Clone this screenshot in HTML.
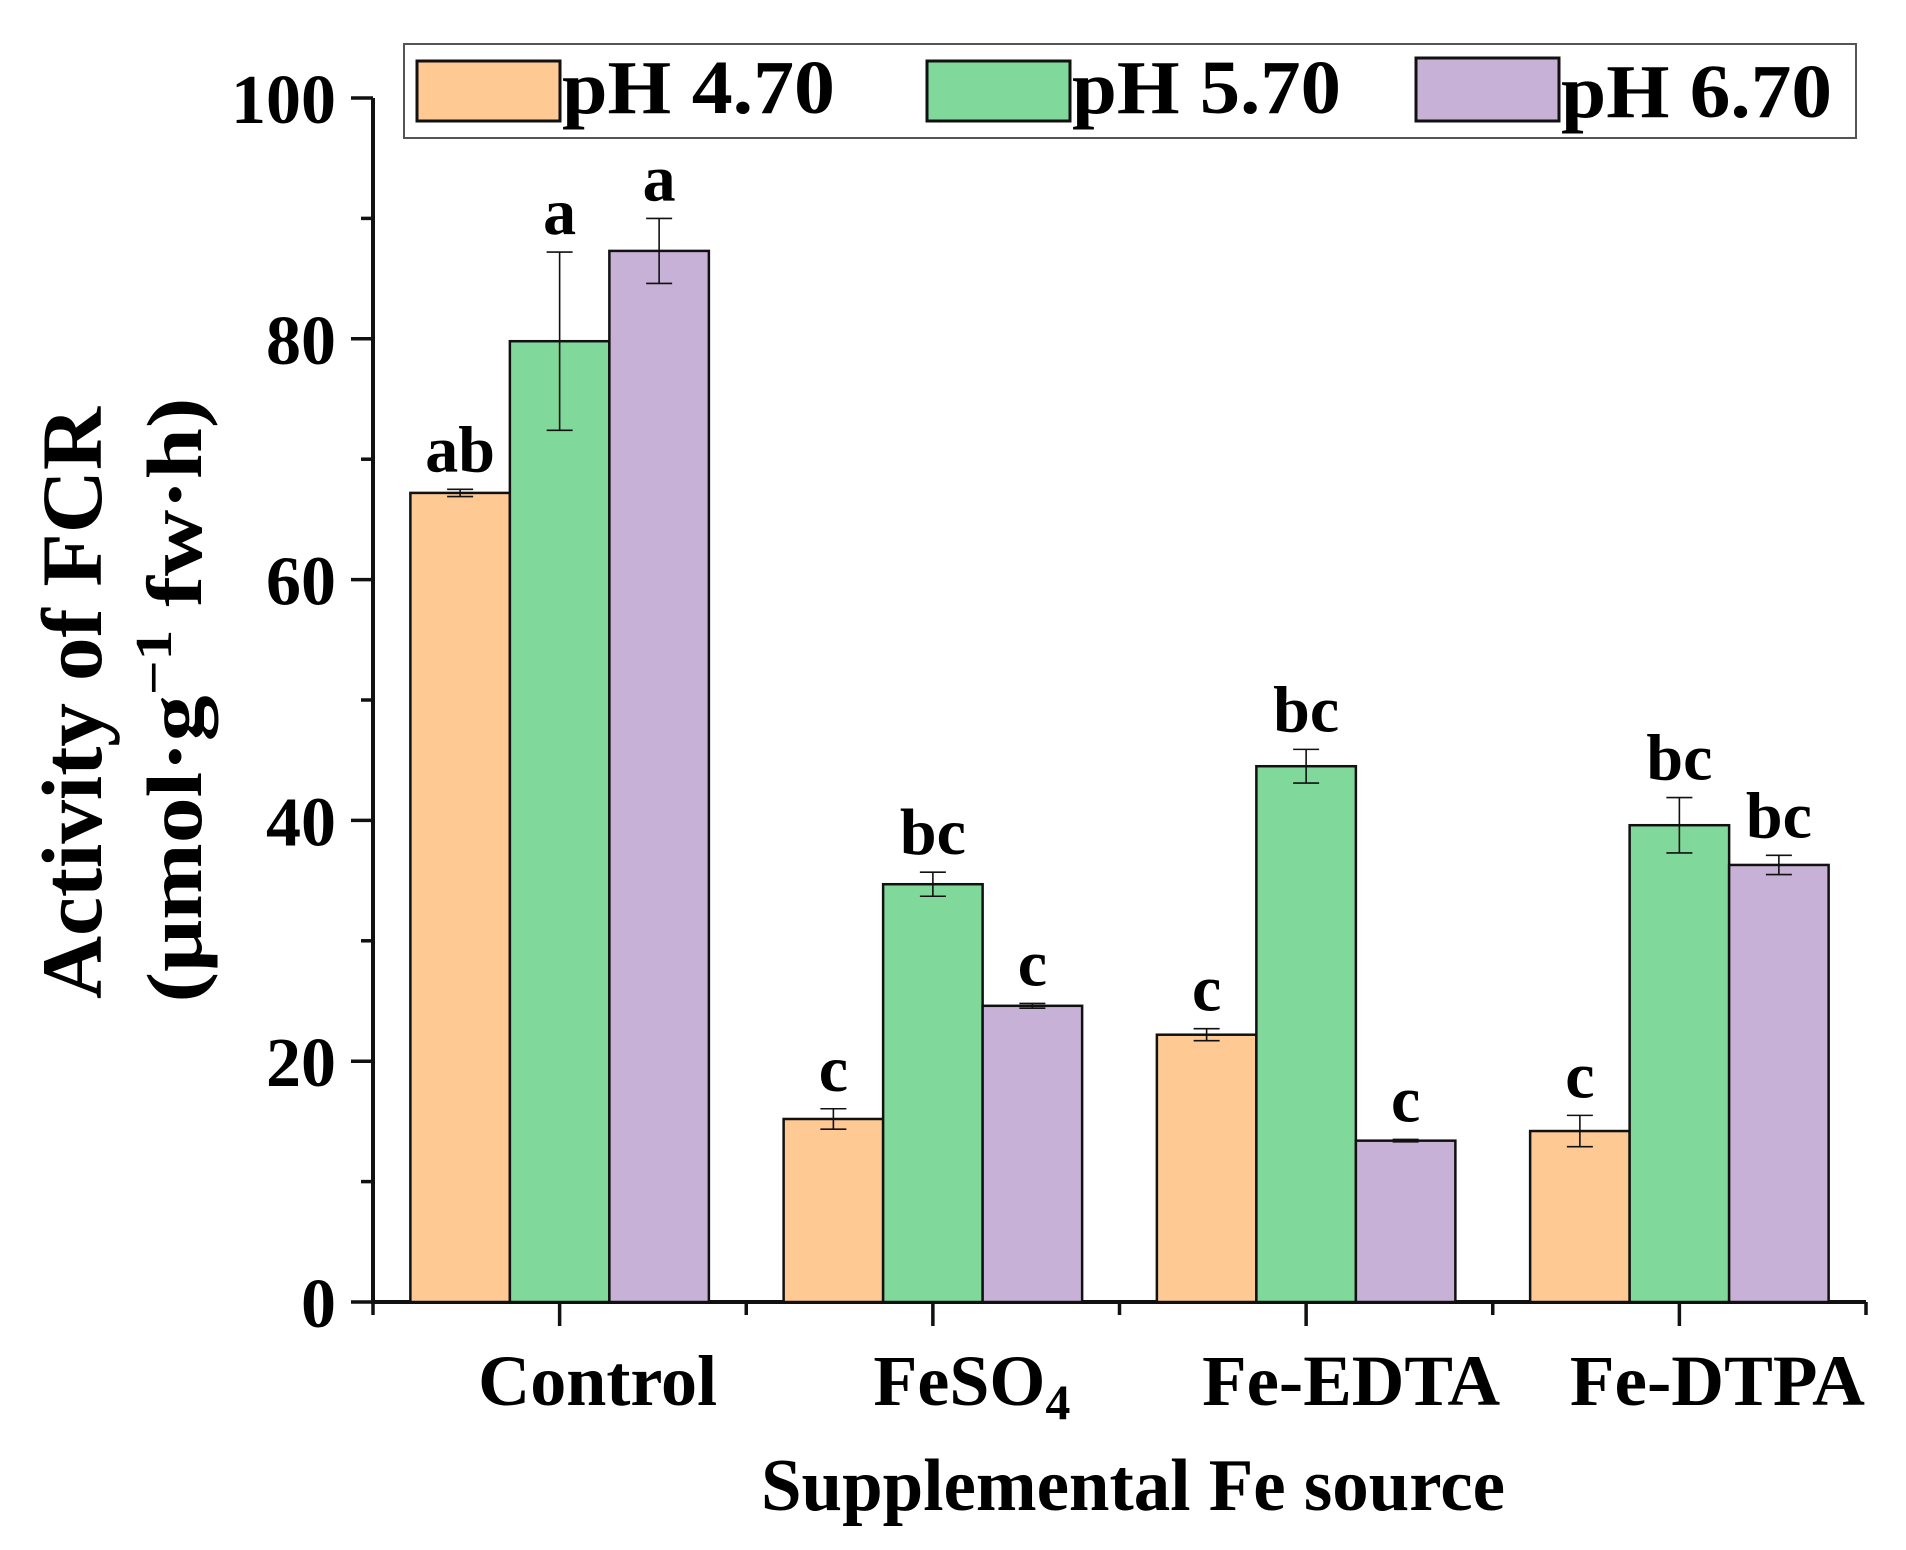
<!DOCTYPE html>
<html><head><meta charset="utf-8"><style>
html,body{margin:0;padding:0;background:#fff;}
svg{display:block;font-family:"Liberation Serif",serif;font-weight:bold;}
</style></head><body>
<svg id="chart" width="1906" height="1550" viewBox="0 0 1906 1550" xmlns="http://www.w3.org/2000/svg">
<g id="axes"></g>
<g id="bars"></g>
<g id="labels"></g>
<text transform="translate(101,703) rotate(-90)" text-anchor="middle" font-size="86" textLength="592" lengthAdjust="spacingAndGlyphs">Activity of FCR</text>
<text transform="translate(201,700) rotate(-90)" text-anchor="middle" font-size="78" textLength="605" lengthAdjust="spacingAndGlyphs">(μmol·g<tspan dy="-30" font-size="52">−1</tspan><tspan dy="30">  fw·h)</tspan></text>
<text x="1133" y="1510" text-anchor="middle" font-size="74" textLength="744" lengthAdjust="spacingAndGlyphs">Supplemental Fe source</text>
<g>
<rect x="404" y="44" width="1452" height="94" fill="#fff" stroke="#555" stroke-width="2"/>
<rect x="417" y="61" width="143" height="60" fill="#FFC994" stroke="#111" stroke-width="3"/>
<text x="562" y="113" font-size="76" textLength="273" lengthAdjust="spacingAndGlyphs">pH 4.70</text>
<rect x="927" y="61" width="143" height="60" fill="#80D99B" stroke="#111" stroke-width="3"/>
<text x="1072" y="113" font-size="76" textLength="269" lengthAdjust="spacingAndGlyphs">pH 5.70</text>
<rect x="1416" y="58" width="143" height="63" fill="#C8B1D7" stroke="#111" stroke-width="3"/>
<text x="1561" y="117" font-size="76" textLength="271" lengthAdjust="spacingAndGlyphs">pH 6.70</text>
</g>
</svg>
<script>
const categories = ["Control", "FeSO4", "Fe-EDTA", "Fe-DTPA"];
const seriesNames = ["pH 4.70", "pH 5.70", "pH 6.70"];
const ph470 = [67.2, 15.2, 22.2, 14.2];
const ph570 = [79.8, 34.7, 44.5, 39.6];
const ph670 = [87.3, 24.6, 13.4, 36.3];
const err470 = [0.3, 0.85, 0.5, 1.3];
const err570 = [7.4, 1.0, 1.4, 2.3];
const err670 = [2.7, 0.2, 0.1, 0.8];
const sig470 = ["ab", "c", "c", "c"];
const sig570 = ["a", "bc", "bc", "bc"];
const sig670 = ["a", "c", "c", "bc"];
const yTicks = [0, 20, 40, 60, 80, 100];
const yMinor = [10, 30, 50, 70, 90];

const NS = "http://www.w3.org/2000/svg";
const X0 = 373, X1 = 1866, Y0 = 1302, Y100 = 98;
const band = (X1 - X0) / categories.length;
const barW = 99.5;
const colors = ["#FFC994", "#80D99B", "#C8B1D7"];
function yScale(v){ return Y0 - (Y0 - Y100) * v / 100; }
function xCenter(i){ return X0 + band * (i + 0.5); }
function mk(tag, attrs, parent){
  const e = document.createElementNS(NS, tag);
  for (const k in attrs) e.setAttribute(k, attrs[k]);
  parent.appendChild(e); return e;
}
const axes = document.getElementById('axes');
const barsG = document.getElementById('bars');
const labelsG = document.getElementById('labels');

const vals = [ph470, ph570, ph670], errs = [err470, err570, err670], sigs = [sig470, sig570, sig670];
categories.forEach((c, i) => {
  const left = xCenter(i) - 1.5 * barW;
  for (let s = 0; s < 3; s++) {
    const v = vals[s][i], x = left + s * barW, y = yScale(v);
    const r = mk('rect', {x: x, y: y, width: barW, height: Y0 - y, fill: colors[s], stroke: '#111', 'stroke-width': 2.5}, barsG);
    
    
    const cx = x + barW / 2, yt = yScale(v + errs[s][i]), yb = yScale(v - errs[s][i]);
    const eb = mk('path', {d: `M${cx},${yt}V${yb}M${cx-13},${yt}H${cx+13}M${cx-13},${yb}H${cx+13}`, stroke: '#111', 'stroke-width': 1.6, fill: 'none'}, barsG);
    
    
    const t = mk('text', {x: cx, y: yt - 18, 'text-anchor': 'middle', 'font-size': 66}, labelsG);
    t.textContent = sigs[s][i];
    
    
  }
});

const yl = mk('line', {x1: X0, y1: Y100, x2: X0, y2: Y0 + 2, stroke: '#111', 'stroke-width': 4}, axes);


const xl = mk('line', {x1: X0 - 2, y1: Y0, x2: X1, y2: Y0, stroke: '#111', 'stroke-width': 4}, axes);


yTicks.forEach(v => {
  const y = yScale(v);
  const tk = mk('line', {x1: X0 - 22, y1: y, x2: X0, y2: y, stroke: '#111', 'stroke-width': 3.5}, axes);
  
  
  const t = mk('text', {x: 336, y: y + 25, 'text-anchor': 'end', 'font-size': 70}, axes);
  t.textContent = v;
  
  
});
yMinor.forEach(v => {
  const y = yScale(v);
  const tk = mk('line', {x1: X0 - 12, y1: y, x2: X0, y2: y, stroke: '#111', 'stroke-width': 3.5}, axes);
  
  
});
for (let i = 0; i <= categories.length; i++) {
  const x = X0 + band * i;
  const tk = mk('line', {x1: x, y1: Y0, x2: x, y2: Y0 + 13, stroke: '#111', 'stroke-width': 3.5}, axes);
  
  
}
const labelOffsets = [38, 39, 45, 38];
const labelWidths = [239, 200, 298, 295];
categories.forEach((c, i) => {
  const x = xCenter(i);
  const tk = mk('line', {x1: x, y1: Y0, x2: x, y2: Y0 + 24, stroke: '#111', 'stroke-width': 3.5}, axes);
  
  
  const t = mk('text', {x: x + labelOffsets[i], y: 1405, 'text-anchor': 'middle', 'font-size': 72}, axes);
  if (c === 'FeSO4') {
    t.innerHTML = 'FeSO<tspan dy="14" font-size="50">4</tspan>';
  } else {
    t.textContent = c;
    t.setAttribute('textLength', labelWidths[i]);
    t.setAttribute('lengthAdjust', 'spacingAndGlyphs');
  }
  
  
});
</script>
</body></html>
